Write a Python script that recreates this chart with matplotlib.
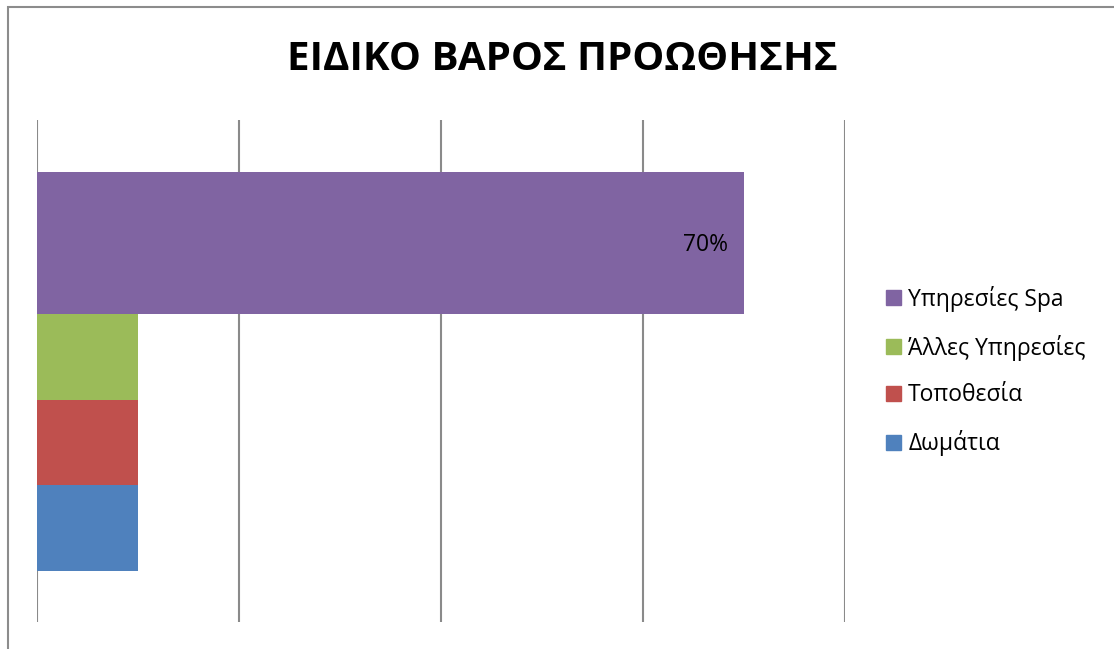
import matplotlib.pyplot as plt
from matplotlib.patches import Patch, Rectangle

plt.rcParams['font.family'] = ['Open Sans', 'DejaVu Sans']

# data
categories = ['Δωμάτια', 'Τοποθεσία', 'Άλλες Υπηρεσίες', 'Υπηρεσίες Spa']
values = [10, 10, 10, 70]
colors = ['#4F81BD', '#C0504D', '#9BBB59', '#8064A2']
title = 'ΕΙΔΙΚΟ ΒΑΡΟΣ ΠΡΟΩΘΗΣΗΣ'

# layout of the bars (pixel-like units from the bottom of the plot area)
bar_pos = [94, 179.5, 265, 379]
bar_h = [86, 85, 86, 142]

fig = plt.figure(figsize=(11.14, 6.49), dpi=100)
W, H = 1114, 649
ax = fig.add_axes([37 / W, 1 - 622 / H, (845 - 37) / W, (622 - 120) / H])

for x in [0, 20, 40, 60, 80]:
    ax.axvline(x, color='#8a8a8a', lw=1.5, zorder=0)

bars = ax.barh(bar_pos, values, height=bar_h, color=colors, zorder=2)
# only the spa bar has a label
ax.text(values[3] - 1.6, bar_pos[3] - 2, '%d%%' % values[3], ha='right', va='center',
        fontsize=16.5, color='black', zorder=3)

ax.set_xlim(0, 80)
ax.set_ylim(0, 502)
ax.set_xticks([])
ax.set_yticks([])
for s in ax.spines.values():
    s.set_visible(False)

fig.text(562 / W, 1 - 60 / H, title, ha='center', va='center',
         fontsize=29, fontweight='bold')

handles = [Patch(color=colors[i], label=categories[i]) for i in [3, 2, 1, 0]]
fig.legend(handles=handles, loc='center left', bbox_to_anchor=(875 / W, 1 - 371 / H),
           frameon=False, fontsize=16.5, handlelength=0.65, handleheight=0.65,
           handletextpad=0.3, labelspacing=1.0, borderpad=0)

# outer chart border (left and top visible)
fig.patches.append(Rectangle((8 / W, -0.1), 1.2, 1 - 7 / H + 0.1, transform=fig.transFigure,
                             fill=False, edgecolor='#8c8c8c', lw=1.5))

fig.savefig('out.png', dpi=100)
